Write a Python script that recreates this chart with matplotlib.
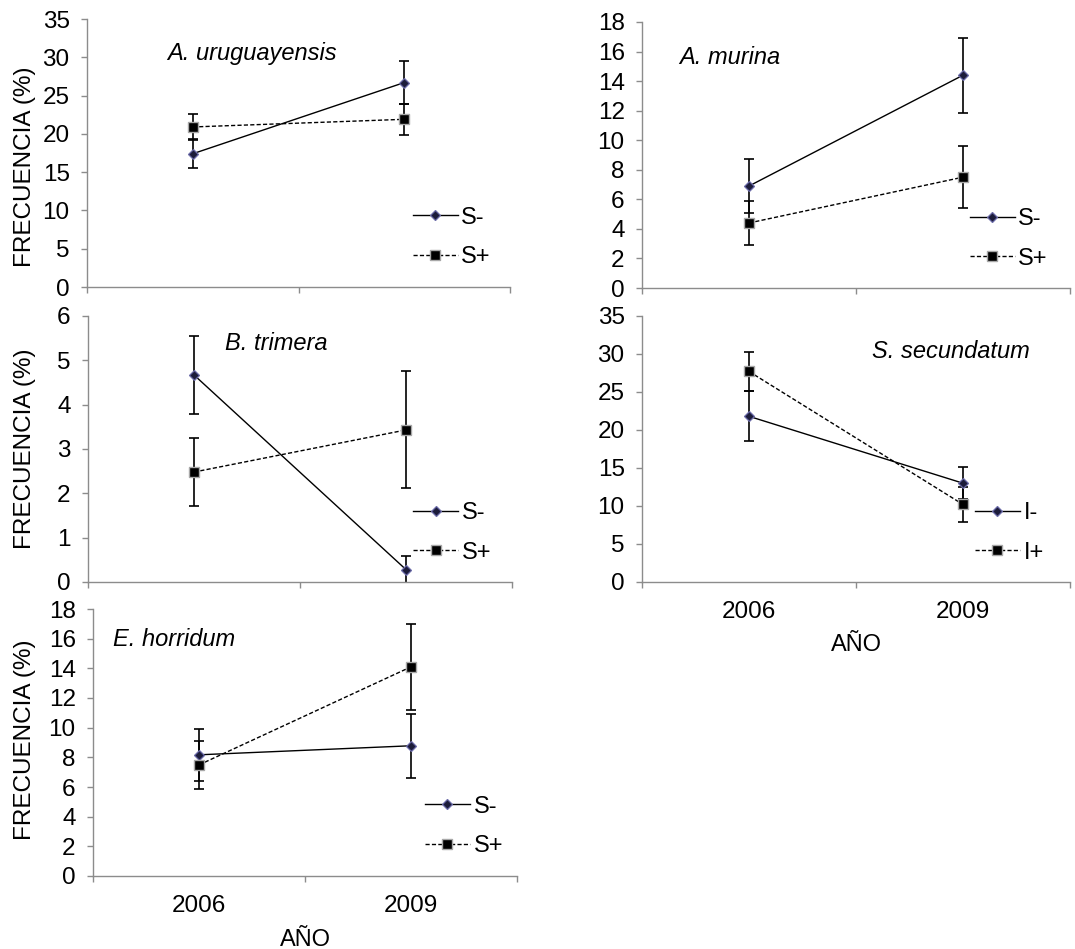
import matplotlib
matplotlib.use("Agg")
import matplotlib.pyplot as plt
from matplotlib.ticker import FixedLocator, MultipleLocator, NullFormatter, FixedFormatter

plt.rcParams["font.family"] = ["Liberation Sans", "DejaVu Sans"]

# ---- data -------------------------------------------------------------
years = ["2006", "2009"]

# A. uruguayensis
aur_minus = [17.4, 26.7]
aur_minus_err = [1.9, 2.8]
aur_plus = [20.9, 21.9]
aur_plus_err = [1.7, 2.0]

# A. murina
amu_minus = [6.9, 14.4]
amu_minus_err = [1.85, 2.55]
amu_plus = [4.4, 7.5]
amu_plus_err = [1.5, 2.1]

# B. trimera
btr_minus = [4.67, 0.28]
btr_minus_err = [0.89, 0.30]
btr_plus = [2.48, 3.43]
btr_plus_err = [0.77, 1.32]

# S. secundatum
sse_minus = [21.8, 13.0]
sse_minus_err = [3.3, 2.1]
sse_plus = [27.7, 10.2]
sse_plus_err = [2.6, 2.3]

# E. horridum
eho_minus = [8.17, 8.78]
eho_minus_err = [1.75, 2.15]
eho_plus = [7.49, 14.1]
eho_plus_err = [1.6, 2.9]

labels_s = ["S-", "S+"]
labels_i = ["I-", "I+"]

# ---- figure ------------------------------------------------------------
W, H = 1075, 949
fig = plt.figure(figsize=(W / 100, H / 100), dpi=100)


def rect(left, bottom, width, height):
    return [left / W, 1 - bottom / H, width / W, height / H]


GRAY = "#8c8c8c"


def panel(r, minus, minus_err, plus, plus_err, ymax, ystep, name, name_xy,
          name_ha, labels, show_x, ylabel, ylabel_y, legend_x):
    ax = fig.add_axes(r)
    x = list(range(len(years)))

    ax.errorbar(x, minus, yerr=minus_err, fmt="none", ecolor="black",
                elinewidth=1.2, capsize=3.6, capthick=1.2, zorder=2)
    ax.errorbar(x, plus, yerr=plus_err, fmt="none", ecolor="black",
                elinewidth=1.2, capsize=3.6, capthick=1.2, zorder=2)
    ax.plot(x, minus, color="black", lw=1.0, marker="D", ms=4.8,
            mfc="#1c1c3a", mec="#6a6aa8", mew=0.9, label=labels[0], zorder=3)
    ax.plot(x, plus, color="black", lw=1.0, ls=(0, (3, 1.6)), marker="s",
            ms=6.5, mfc="black", mec="#a8a8a8", mew=1.0, label=labels[1],
            zorder=3)

    ax.set_xlim(-0.5, len(years) - 0.5)
    ax.set_ylim(0, ymax)
    ax.yaxis.set_major_locator(MultipleLocator(ystep))

    ax.xaxis.set_major_locator(FixedLocator([-0.5, 0.5, 1.5]))
    ax.xaxis.set_major_formatter(NullFormatter())
    ax.xaxis.set_minor_locator(FixedLocator(x))
    if show_x:
        ax.xaxis.set_minor_formatter(FixedFormatter(years))
        ax.set_xlabel("AÑO", fontsize=17)
        ax.xaxis.set_label_coords(0.5, -0.197)
    else:
        ax.xaxis.set_minor_formatter(NullFormatter())

    for s in ("top", "right"):
        ax.spines[s].set_visible(False)
    for s in ("left", "bottom"):
        ax.spines[s].set_color(GRAY)
        ax.spines[s].set_linewidth(1.0)

    ax.tick_params(axis="y", which="major", direction="out", length=4.5,
                   width=1.0, color=GRAY, pad=8, labelsize=17.5)
    ax.tick_params(axis="x", which="major", direction="out", length=4.5,
                   width=1.0, color=GRAY)
    ax.tick_params(axis="x", which="minor", length=0, pad=14, labelsize=17.5)

    if ylabel:
        ax.set_ylabel("FRECUENCIA (%)", fontsize=17.5)
        ax.yaxis.label.set_verticalalignment("center")
        left_px = r[0] * W
        ax.yaxis.set_label_coords((25 - left_px) / (r[2] * W), ylabel_y)

    ax.text(name_xy[0], name_xy[1], name, transform=ax.transAxes,
            fontsize=17, style="italic", ha=name_ha, va="center")

    ax.legend(loc="center left", bbox_to_anchor=(legend_x, 0.185),
              frameon=False, fontsize=17, handlelength=1.9,
              handletextpad=0.15, labelspacing=0.75, borderpad=0,
              borderaxespad=0, numpoints=1)
    return ax


panel(rect(87, 287, 423, 268), aur_minus, aur_minus_err, aur_plus,
      aur_plus_err, 35, 5, "A. uruguayensis", (0.19, 0.873), "left",
      labels_s, False, True, 0.45, 0.77)
panel(rect(642, 288, 428, 266), amu_minus, amu_minus_err, amu_plus,
      amu_plus_err, 18, 2, "A. murina", (0.086, 0.865), "left",
      labels_s, False, False, 0.5, 0.766)
panel(rect(88, 582, 424, 266), btr_minus, btr_minus_err, btr_plus,
      btr_plus_err, 6, 1, "B. trimera", (0.323, 0.898), "left",
      labels_s, False, True, 0.5, 0.767)
panel(rect(642, 582, 428, 266), sse_minus, sse_minus_err, sse_plus,
      sse_plus_err, 35, 5, "S. secundatum", (0.907, 0.865), "right",
      labels_i, True, False, 0.5, 0.778)
panel(rect(93, 876, 424, 267), eho_minus, eho_minus_err, eho_plus,
      eho_plus_err, 18, 2, "E. horridum", (0.047, 0.884), "left",
      labels_s, True, True, 0.51, 0.783)

fig.savefig("out.png", dpi=100)
